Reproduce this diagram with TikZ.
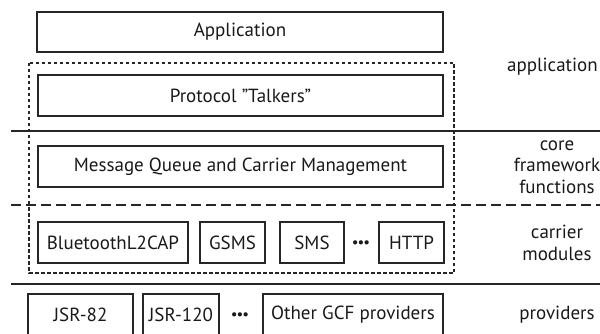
\documentclass[tikz,border=0pt]{standalone}
\usepackage{fontspec}
\setmainfont{PT Sans}
\begin{document}
\begin{tikzpicture}[x=1pt,y=-1pt,
  every node/.style={font=\fontsize{19}{22}\selectfont, text=black!90},
  layerbox/.style={draw=black!85, line width=1.6pt, inner sep=0pt, anchor=center, minimum height=41pt},
  sidelabel/.style={align=center, font=\fontsize{19}{21.5}\selectfont},
  dotsnode/.style={font=\fontsize{15}{16}\selectfont, inner sep=0pt},
  divider/.style={draw=black!85, line width=2pt},
  dashdivider/.style={draw=black!85, line width=1.8pt, dash pattern=on 10pt off 5pt},
  dotframe/.style={draw=black!85, line width=1.6pt, dash pattern=on 3.5pt off 2.5pt}]
\useasboundingbox (0,0) rectangle (600,334);
\clip (0,0) rectangle (600,334);
% dotted frame
\draw[dotframe] (29,63) rectangle (454,273);
% dividers
\coordinate (l1a) at (11,131); \coordinate (l1b) at (602,131);
\coordinate (l2a) at (11,205); \coordinate (l2b) at (602,205);
\coordinate (l3a) at (11,284); \coordinate (l3b) at (602,284);
\draw[divider] (l1a) -- (l1b);
\draw[dashdivider] (l2a) -- (l2b);
\draw[divider] (l3a) -- (l3b);
% boxes
\node[layerbox, minimum width=406pt, minimum height=40pt] (app) at (240,32) {Application};
\node[layerbox, minimum width=405pt] (talk) at (240.5,95.5) {Protocol \symbol{34}Talkers\symbol{34}};
\node[layerbox, minimum width=405pt] (mq) at (240.5,166.5) {Message Queue and Carrier Management};
\node[layerbox, minimum width=150pt] (bt) at (113,242.5) {BluetoothL2CAP};
\node[layerbox, minimum width=65pt] (gsms) at (232.5,242.5) {GSMS};
\node[layerbox, minimum width=64pt] (sms) at (312,242.5) {SMS};
\node[dotsnode] (cdots) at (361,244) {\textbullet\kern-1pt\textbullet\kern-1pt\textbullet};
\node[layerbox, minimum width=65pt] (http) at (411.5,242.5) {HTTP};
\node[layerbox, minimum width=105pt] (jsr82) at (80.5,314.5) {JSR-82};
\node[layerbox, minimum width=76pt] (jsr120) at (181,314.5) {JSR-120};
\node[dotsnode] (pdots) at (240,316) {\textbullet\kern-1pt\textbullet\kern-1pt\textbullet};
\node[layerbox, minimum width=180pt] (gcf) at (353,314.5) {Other GCF providers};
% side labels
\node[sidelabel, anchor=east, inner sep=1pt] (lapp) at (599,67) {application};
\node[sidelabel] (lcore) at (557,167) {core\\framework\\functions};
\node[sidelabel] (lcarr) at (557,243) {carrier\\modules};
\node[sidelabel] (lprov) at (557,314.5) {providers};
\end{tikzpicture}
\end{document}
